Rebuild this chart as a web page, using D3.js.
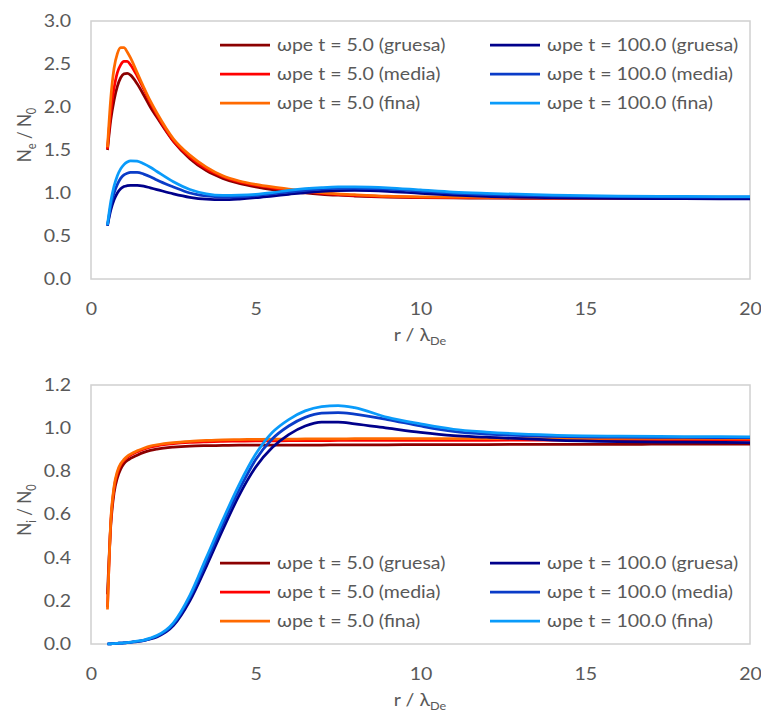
<!DOCTYPE html>
<html>
<head>
<meta charset="utf-8">
<style>
    body { margin: 0; background: #fff; }
    text { font-family: Lato, "Open Sans", sans-serif; fill: #595959; }
</style>
<script src="https://cdn.jsdelivr.net/npm/d3@7"></script>
</head>
<body>
<svg id="chart" width="761" height="713"></svg>
<script>
// r / lambda_De sample points (shared by every series)
var rVals = [0.5,0.6,0.7,0.8,0.9,1.0,1.1,1.2,1.4,1.6,1.8,2.0,2.5,3.0,3.5,4.0,4.5,5.0,5.5,6.0,6.5,7.0,7.5,8.0,9.0,10,11,12,14,16,18,20];

// electrons, Ne/N0
var ne5Gruesa   = [1.50,1.85,2.08,2.24,2.34,2.385,2.39,2.37,2.27,2.14,2.00,1.88,1.60,1.40,1.26,1.17,1.11,1.07,1.04,1.02,1.00,0.985,0.974,0.965,0.952,0.945,0.942,0.940,0.938,0.937,0.936,0.936];
var ne5Media    = [1.51,1.95,2.22,2.40,2.49,2.53,2.53,2.49,2.36,2.21,2.05,1.91,1.61,1.42,1.28,1.19,1.13,1.09,1.06,1.035,1.013,0.995,0.982,0.972,0.958,0.950,0.947,0.945,0.943,0.942,0.942,0.942];
var ne5Fina     = [1.53,2.10,2.45,2.62,2.69,2.69,2.64,2.57,2.40,2.23,2.07,1.93,1.63,1.44,1.30,1.20,1.14,1.10,1.07,1.045,1.023,1.005,0.990,0.980,0.963,0.955,0.952,0.950,0.948,0.947,0.947,0.947];
var ne100Gruesa = [0.62,0.80,0.92,1.00,1.05,1.075,1.085,1.09,1.09,1.08,1.06,1.04,0.99,0.95,0.928,0.922,0.930,0.945,0.965,0.985,1.005,1.020,1.028,1.030,1.020,0.995,0.975,0.960,0.945,0.938,0.934,0.932];
var ne100Media  = [0.62,0.85,1.00,1.10,1.17,1.21,1.23,1.24,1.24,1.22,1.19,1.15,1.07,1.00,0.965,0.952,0.955,0.970,0.990,1.010,1.030,1.045,1.053,1.055,1.045,1.020,0.997,0.982,0.965,0.957,0.953,0.951];
var ne100Fina   = [0.63,0.90,1.08,1.20,1.28,1.33,1.36,1.375,1.37,1.34,1.30,1.25,1.13,1.04,0.99,0.972,0.975,0.985,1.005,1.030,1.050,1.063,1.070,1.070,1.060,1.035,1.010,0.995,0.975,0.965,0.960,0.958];

// ions, Ni/N0
var ni5Gruesa   = [0.23,0.55,0.70,0.77,0.81,0.835,0.85,0.86,0.875,0.888,0.897,0.903,0.912,0.917,0.919,0.920,0.921,0.921,0.922,0.922,0.922,0.922,0.923,0.923,0.923,0.924,0.924,0.924,0.925,0.925,0.926,0.926];
var ni5Media    = [0.17,0.56,0.72,0.79,0.83,0.85,0.865,0.875,0.89,0.902,0.912,0.918,0.928,0.934,0.937,0.939,0.940,0.941,0.941,0.942,0.942,0.942,0.943,0.943,0.943,0.944,0.944,0.944,0.945,0.945,0.945,0.945];
var ni5Fina     = [0.16,0.57,0.73,0.80,0.835,0.855,0.87,0.88,0.895,0.907,0.917,0.923,0.933,0.939,0.943,0.946,0.947,0.948,0.949,0.949,0.950,0.950,0.950,0.951,0.951,0.951,0.952,0.952,0.952,0.953,0.953,0.953];
var ni100Gruesa = [0,0.001,0.002,0.003,0.004,0.005,0.006,0.008,0.011,0.016,0.023,0.033,0.085,0.20,0.36,0.53,0.69,0.82,0.91,0.97,1.01,1.028,1.028,1.02,1.00,0.98,0.965,0.958,0.945,0.938,0.935,0.933];
var ni100Media  = [0,0.001,0.002,0.003,0.004,0.005,0.006,0.008,0.012,0.017,0.025,0.036,0.092,0.215,0.38,0.555,0.715,0.855,0.95,1.01,1.05,1.07,1.072,1.065,1.04,1.01,0.985,0.972,0.962,0.958,0.957,0.956];
var ni100Fina   = [0,0.001,0.002,0.003,0.004,0.005,0.007,0.009,0.013,0.018,0.027,0.039,0.098,0.225,0.40,0.575,0.74,0.88,0.98,1.04,1.08,1.10,1.105,1.095,1.05,1.02,0.995,0.982,0.968,0.963,0.961,0.960];

var seriesNames  = ["ωpe t = 5.0 (gruesa)","ωpe t = 5.0 (media)","ωpe t = 5.0 (fina)","ωpe t = 100.0 (gruesa)","ωpe t = 100.0 (media)","ωpe t = 100.0 (fina)"];
var seriesColors = ["#8B0000","#FF0000","#FF6A00","#00008B","#0A3CC8","#0A9BFA"];

var xTicks = [0,5,10,15,20];
var neTicks = [0,0.5,1.0,1.5,2.0,2.5,3.0];
var niTicks = [0,0.2,0.4,0.6,0.8,1.0,1.2];

var svg = d3.select("#chart");
var SX = 1.15; // reference text is stretched horizontally
var FS = 17;

function drawPanel(top, bottom, yMax, yTicks, seriesData, sub, titleY, legendY) {
    var x = d3.scaleLinear().domain([0, 20]).range([91, 750]);
    var y = d3.scaleLinear().domain([0, yMax]).range([bottom, top]);

    // plot area border
    svg.append("rect")
        .attr("x", 91).attr("y", top)
        .attr("width", 750 - 91).attr("height", bottom - top)
        .attr("fill", "none").attr("stroke", "#D0D0D0").attr("stroke-width", 1.5);

    var gy = svg.append("g").attr("transform", "translate(91,0)")
        .call(d3.axisLeft(y).tickValues(yTicks).tickSize(0).tickPadding(20 / SX).tickFormat(d3.format(".1f")));
    gy.select(".domain").remove();
    gy.selectAll("text").attr("font-size", FS).attr("font-family", null).attr("fill", "#595959")
        .attr("transform", "scale(" + SX + ",1)");

    var gx = svg.append("g").attr("transform", "translate(0," + bottom + ")")
        .call(d3.axisBottom(x).tickValues(xTicks).tickSize(0).tickPadding(24).tickFormat(d3.format("d")));
    gx.select(".domain").remove();
    gx.selectAll("text").attr("font-size", FS).attr("font-family", null).attr("fill", "#595959")
        .attr("transform", "scale(" + SX + ",1)");

    var line = d3.line()
        .x(function(d, i) { return x(rVals[i]); })
        .y(function(d) { return y(d); })
        .curve(d3.curveMonotoneX);

    svg.append("g").selectAll("path")
        .data(seriesData)
        .join("path")
        .attr("d", line)
        .attr("fill", "none")
        .attr("stroke", function(d, i) { return seriesColors[i]; })
        .attr("stroke-width", 2.75);

    // y title
    var yt = svg.append("text")
        .attr("transform", "translate(31," + titleY + ") rotate(-90) scale(1," + SX + ")")
        .attr("text-anchor", "middle")
        .attr("font-size", FS);
    yt.append("tspan").text("N");
    yt.append("tspan").attr("font-size", 11).attr("dy", 4).text(sub);
    yt.append("tspan").attr("dy", -4).text(" / N");
    yt.append("tspan").attr("font-size", 11).attr("dy", 4).text("0");

    // x title
    var xt = svg.append("text")
        .attr("transform", "translate(420," + (bottom + 62) + ") scale(" + SX + ",1)")
        .attr("text-anchor", "middle")
        .attr("font-size", FS);
    xt.append("tspan").text("r / λ");
    xt.append("tspan").attr("font-size", 11).attr("dy", 4).text("De");

    // legend, 2 columns x 3 rows
    var leg = svg.append("g").selectAll("g")
        .data(seriesNames)
        .join("g")
        .attr("transform", function(d, i) {
            var col = Math.floor(i / 3), row = i % 3;
            return "translate(" + (220 + col * 270) + "," + (legendY + row * 29) + ")";
        });
    leg.append("line")
        .attr("x1", 0).attr("x2", 50)
        .attr("stroke", function(d, i) { return seriesColors[i]; })
        .attr("stroke-width", 2.75);
    leg.append("text")
        .attr("transform", "translate(57,0) scale(" + SX + ",1)")
        .attr("dy", "0.35em")
        .attr("font-size", FS)
        .text(function(d) { return d; });
}

drawPanel(21, 279, 3.0, neTicks, [ne5Gruesa, ne5Media, ne5Fina, ne100Gruesa, ne100Media, ne100Fina], "e", 135, 45);
drawPanel(385, 644, 1.2, niTicks, [ni5Gruesa, ni5Media, ni5Fina, ni100Gruesa, ni100Media, ni100Fina], "i", 510, 563);
</script>
</body>
</html>
